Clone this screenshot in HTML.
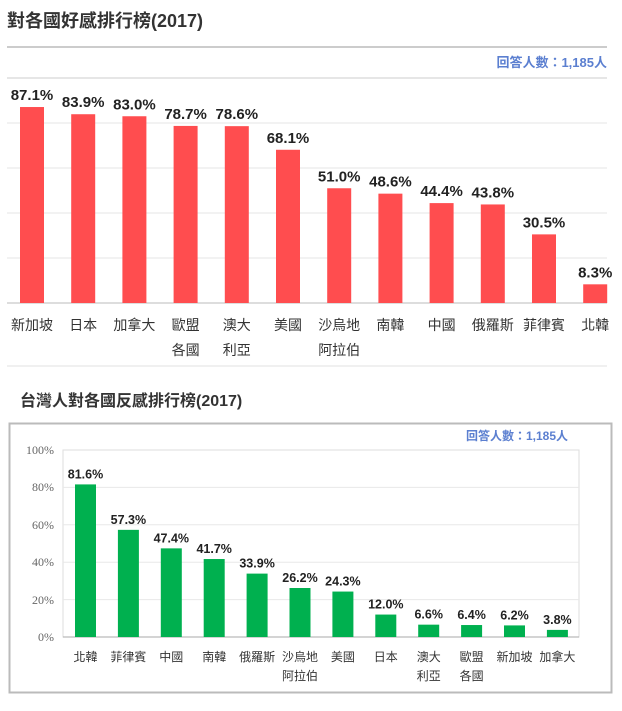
<!DOCTYPE html>
<html><head><meta charset="utf-8"><style>
body{margin:0;background:#fff;width:622px;height:711px;overflow:hidden}
svg{display:block}
.t{font-family:"Liberation Sans","Noto Sans CJK TC",sans-serif}
</style></head><body>
<svg width="622" height="711" xmlns="http://www.w3.org/2000/svg" class="t">
<text x="7" y="27" font-size="18" font-weight="bold" fill="#333">對各國好感排行榜(2017)</text>
<line x1="7" y1="47" x2="607" y2="47" stroke="#ccc" stroke-width="2"/>
<text x="607" y="67" font-size="13" font-weight="bold" fill="#5b7fd0" text-anchor="end">回答人數：1,185人</text>
<line x1="7" y1="78" x2="607" y2="78" stroke="#ddd" stroke-width="1.5"/>
<g stroke="#e6e6e6" stroke-width="1">
<line x1="7" y1="123" x2="607" y2="123"/><line x1="7" y1="168" x2="607" y2="168"/>
<line x1="7" y1="213" x2="607" y2="213"/><line x1="7" y1="258" x2="607" y2="258"/>
</g>
<line x1="7" y1="303" x2="607" y2="303" stroke="#bbb"/>
<g id="gtop"></g>
<line x1="7" y1="366" x2="607" y2="366" stroke="#e0e0e0"/>
<text x="20" y="406" font-size="16" font-weight="bold" fill="#333">台灣人對各國反感排行榜(2017)</text>
<rect x="9.5" y="423.5" width="602" height="269" fill="#fff" stroke="#bbb" stroke-width="2"/>
<text x="568" y="440" font-size="12" font-weight="bold" fill="#5b7fd0" text-anchor="end">回答人數：1,185人</text>
<rect x="63" y="450" width="516" height="187" fill="none" stroke="#ddd"/>
<g stroke="#e8e8e8"><line x1="63" y1="487.4" x2="579" y2="487.4"/><line x1="63" y1="524.8" x2="579" y2="524.8"/><line x1="63" y1="562.2" x2="579" y2="562.2"/><line x1="63" y1="599.6" x2="579" y2="599.6"/></g>
<line x1="63" y1="637" x2="579" y2="637" stroke="#aaa"/>
<g font-family="Liberation Serif,serif" font-size="12" fill="#666" text-anchor="end">
<text x="54" y="454">100%</text><text x="54" y="491">80%</text><text x="54" y="529">60%</text><text x="54" y="566">40%</text><text x="54" y="604">20%</text><text x="54" y="641">0%</text>
</g>
<g id="gbot"></g>
</svg>
<script>
(function(){
var NS="http://www.w3.org/2000/svg";
function el(p,n,a,t){var e=document.createElementNS(NS,n);for(var k in a)e.setAttribute(k,a[k]);if(t)e.textContent=t;p.appendChild(e);}
var tdata=[["新加坡",87.1],["日本",83.9],["加拿大",83.0],["歐盟|各國",78.7],["澳大|利亞",78.6],["美國",68.1],["沙烏地|阿拉伯",51.0],["南韓",48.6],["中國",44.4],["俄羅斯",43.8],["菲律賓",30.5],["北韓",8.3]];
var g=document.getElementById("gtop");
tdata.forEach(function(d,i){var x=20+51.2*i,h=d[1]*2.25,y=303-h,c=x+12;
el(g,"rect",{x:x,y:y,width:24,height:h,fill:"#ff4d4f"});
el(g,"text",{x:c,y:y-7,"font-size":15,"font-weight":"bold",fill:"#222","text-anchor":"middle"},d[1].toFixed(1)+"%");
d[0].split("|").forEach(function(s,j){el(g,"text",{x:c,y:330+j*25,"font-size":14,fill:"#333","text-anchor":"middle"},s);});});
var bdata=[["北韓",81.6],["菲律賓",57.3],["中國",47.4],["南韓",41.7],["俄羅斯",33.9],["沙烏地|阿拉伯",26.2],["美國",24.3],["日本",12.0],["澳大|利亞",6.6],["歐盟|各國",6.4],["新加坡",6.2],["加拿大",3.8]];
var b=document.getElementById("gbot");
bdata.forEach(function(d,i){var x=75+42.9*i,h=d[1]*1.87,y=637-h,c=x+10.5;
el(b,"rect",{x:x,y:y,width:21,height:h,fill:"#00b04f"});
el(b,"text",{x:c,y:y-6,"font-size":12.5,"font-weight":"bold",fill:"#222","text-anchor":"middle"},d[1].toFixed(1)+"%");
d[0].split("|").forEach(function(s,j){el(b,"text",{x:c,y:661+j*19,"font-size":12,fill:"#333","text-anchor":"middle"},s);});});
})();
</script>
</body></html>
